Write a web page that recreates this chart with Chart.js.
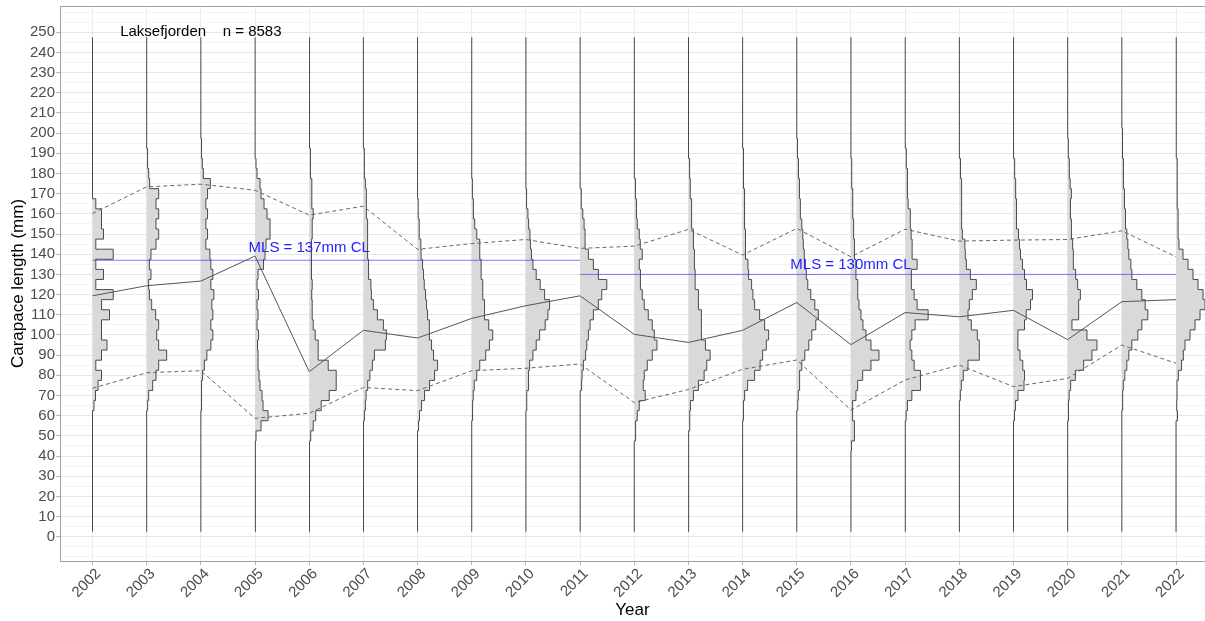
<!DOCTYPE html>
<html>
<head>
<meta charset="utf-8">
<script src="https://cdn.jsdelivr.net/npm/chart.js@4.4.1/dist/chart.umd.min.js"></script>
<style>
  html, body { margin: 0; padding: 0; background: #fff; }
  canvas { display: block; }
</style>
</head>
<body>
<canvas id="grafico" width="1205" height="621"></canvas>
<script>
// Anos e limites das classes de comprimento (mm)
const years = [2002, 2003, 2004, 2005, 2006, 2007, 2008, 2009, 2010, 2011, 2012,
               2013, 2014, 2015, 2016, 2017, 2018, 2019, 2020, 2021, 2022]
const binCentres = [45, 50, 55, 60, 65, 70, 75, 80, 85, 90, 95, 100, 105, 110, 115, 120,
                    125, 130, 135, 140, 145, 150, 155, 160, 165, 170, 175, 180, 185, 190, 195, 200]
const binWidth = 5
const lengthMin = 2.5
const lengthMax = 247.5
const lengthTicks = [0, 10, 20, 30, 40, 50, 60, 70, 80, 90, 100, 110, 120, 130, 140, 150,
                     160, 170, 180, 190, 200, 210, 220, 230, 240, 250]
const gridSteps = [-10, -5, 0, 5, 10, 15, 20, 25, 30, 35, 40, 45, 50, 55, 60, 65, 70, 75, 80, 85, 90, 95,
                   100, 105, 110, 115, 120, 125, 130, 135, 140, 145, 150, 155, 160, 165, 170, 175, 180,
                   185, 190, 195, 200, 205, 210, 215, 220, 225, 230, 235, 240, 245, 250, 255, 260]

// Frequencias relativas por classe (45 ... 200 mm)
const freq2002 = [0, 0, 0, 0, 1.5, 3, 5.5, 9, 3.3, 9, 14.5, 9, 9, 17, 9, 20.7, 3.3, 11, 3.3, 20.7, 3.3, 11, 9, 9, 3.3, 0, 0, 0, 0, 0, 0, 0]
const freq2003 = [0, 0, 0, 0, 1, 2, 6, 9.3, 12, 20, 12, 10, 12, 9, 5, 2.7, 2, 4.3, 2.7, 4.3, 9.3, 12, 9.3, 12, 9.3, 12, 3, 2, 1.3, 0.7, 0, 0]
const freq2004 = [0, 0, 0, 0, 0.5, 0.5, 1, 1.7, 3.5, 6, 10, 12, 10, 12, 11, 13, 10, 12, 10, 9, 5, 6.7, 5, 6.7, 5, 6.7, 9.5, 2.5, 1.5, 1, 0.5, 0]
const freq2005 = [0.5, 1, 6, 13, 8, 7, 5, 4, 3, 3, 2.5, 3.5, 2, 3, 2, 3.5, 2, 3, 8.5, 10, 11, 15, 15, 12, 9, 6, 5, 2, 1, 0.5, 0, 0]
const freq2006 = [0.5, 1.5, 4, 6.5, 12, 20, 27, 27, 19, 9, 9, 6, 4, 3, 3, 2.5, 3, 2, 2.5, 2, 2.5, 3, 3, 4, 2.7, 2.7, 2.5, 1.7, 1.3, 1, 0.7, 0.5]
const freq2007 = [0, 0, 0.5, 1, 2, 2.7, 4.3, 6.5, 9, 11, 22, 23, 20, 14, 10, 8, 7.5, 5.5, 5, 4.5, 4.5, 4, 4, 3.5, 3, 2.7, 2, 1.5, 1, 0.7, 0, 0]
const freq2008 = [0, 0, 1, 2, 4, 7, 12, 17, 20, 16, 14, 12, 11.7, 10, 9, 8, 6.7, 6, 5, 3.5, 3.3, 2, 1.5, 1, 0.5, 0, 0, 0, 0, 0, 0, 0]
const freq2009 = [0, 0, 0, 0.5, 1, 1.5, 2.5, 5, 8, 14, 17.7, 21, 17, 13, 12.7, 11, 11, 9.5, 9.3, 8, 8, 5, 3, 2, 1.5, 1, 0.5, 0, 0, 0, 0, 0]
const freq2010 = [0, 0, 0, 0, 0.5, 1, 2.5, 2.7, 3.7, 7, 10.3, 13.7, 19.3, 22, 23.7, 18.7, 14.3, 10.3, 7, 5.5, 4.5, 4, 2.7, 2, 1, 0.5, 0, 0, 0, 0, 0, 0]
const freq2011 = [0, 0, 0, 0, 0, 0.5, 1.5, 2, 3.3, 5.5, 6.7, 8.3, 10, 13.3, 18.3, 21.7, 26.7, 18.3, 13.3, 8.3, 5, 5, 4, 2.7, 1.5, 1, 0.5, 0, 0, 0, 0, 0]
const freq2012 = [0, 1, 1.5, 3, 5, 11, 9, 10, 13, 18, 22.7, 20, 18, 14, 10, 8, 6.5, 6, 5, 8, 6, 5, 3, 2.7, 2, 1.5, 1, 0.5, 0, 0, 0, 0]
const freq2013 = [0, 0.5, 1, 1.5, 2, 5, 10, 15.7, 18.3, 21.7, 17, 13, 13, 13, 10, 10, 6.7, 6.7, 6, 6, 5, 5, 3.3, 3.3, 3, 2, 1.7, 1.5, 1, 0.5, 0, 0]
const freq2014 = [0, 0, 0, 0.5, 1, 2, 5, 12, 17.5, 20, 23.7, 26, 22, 17, 12, 10.3, 9, 6, 5.3, 3, 3, 2.7, 2.3, 2, 2, 1.7, 1.3, 1, 1, 0.5, 0, 0]
const freq2015 = [0, 0, 0, 0, 1, 1.5, 2.5, 3, 5, 8, 12, 15, 19, 21.5, 18, 14, 11, 9.5, 8.5, 7.5, 6.5, 6, 5, 3.7, 3.5, 3, 2.5, 2, 1.5, 1, 0.5, 0]
const freq2016 = [0.5, 3.5, 3.5, 1.5, 1.7, 5, 6.7, 11.7, 20, 28, 20, 15, 12, 10, 8, 7, 6.7, 5, 5, 4, 3.3, 3, 2.5, 2, 2, 1.5, 1, 1, 0.5, 0, 0, 0]
const freq2017 = [0, 0, 0.5, 1, 2.3, 6.7, 15, 15.5, 9, 6.7, 5, 6.7, 10, 23, 12, 9, 6.7, 6, 12, 7, 7, 6, 5.5, 5, 3, 2.5, 2.5, 2, 1.5, 1, 0.5, 0]
const freq2018 = [0, 0, 0, 0, 0.5, 1, 2, 4, 8.7, 20, 20, 18, 12, 8.7, 10, 13, 17, 11, 7, 6, 5.5, 3, 2.5, 2.5, 2.3, 2.3, 2, 1.5, 1, 0.5, 0, 0]
const freq2019 = [0, 0, 0, 1, 2, 4.5, 10.5, 11, 9.3, 6.5, 4.3, 4.5, 11, 12.7, 17, 19, 13, 11, 9, 7, 6, 5, 3.5, 3, 2.7, 2.5, 2, 1.5, 1, 0.5, 0, 0]
const freq2020 = [0, 0, 0, 0.5, 1, 1.5, 3, 7.7, 16, 24.3, 29.3, 19.3, 4.3, 11, 11, 12.7, 10, 8, 6, 5.5, 5, 4.3, 3.5, 3, 2.7, 3.7, 2.5, 2, 1.5, 1, 0.5, 0]
const freq2021 = [0, 0, 0, 0, 0.5, 1, 1.5, 3, 5, 7, 10, 16, 20, 26, 23.3, 20, 15, 10, 9, 7, 6, 5, 4, 3.5, 3, 2.5, 2, 1.7, 1.3, 1, 0.7, 0.5]
const freq2022 = [0, 0, 0, 1.5, 0.7, 1, 1, 2.3, 5.5, 7.3, 9, 14, 19, 24, 29, 27, 22, 17, 12, 7, 3, 2.5, 2, 2, 1.5, 1.5, 1.2, 1, 1, 0.7, 0.5, 0]

const histograms = [freq2002, freq2003, freq2004, freq2005, freq2006, freq2007, freq2008,
                    freq2009, freq2010, freq2011, freq2012, freq2013, freq2014, freq2015,
                    freq2016, freq2017, freq2018, freq2019, freq2020, freq2021, freq2022]

// Media e percentis por ano (mm)
const meanCL = [119.4, 124.4, 126.7, 139.1, 81.8, 102.3, 98.5, 108.2, 114.5, 119.4, 100.3,
                96.3, 102.3, 116.1, 95.2, 111.1, 109, 112.2, 97.7, 116.5, 117.5]
const upperCL = [160.2, 173.4, 174.7, 171.7, 159.4, 163.8, 142.4, 145.3, 147.3, 142.9, 144,
                 152.3, 139.6, 152.8, 138.7, 152.4, 146.5, 147, 147.3, 151.6, 138.7]
const lowerCL = [73.6, 81.3, 82.3, 58.7, 61.2, 74, 72.4, 82.3, 83.5, 85.6, 66.5,
                 73, 83, 87.6, 62.8, 77.7, 85.1, 74.4, 78.5, 95, 86]

// Tamanho minimo legal (MLS)
const mlsValues = [137, 130]
const mlsFrom = [2002, 2011]
const mlsTo = [2011, 2022]
const mlsLabels = ['MLS = 137mm CL', 'MLS = 130mm CL']
const mlsLabelX = [2006, 2016]
const mlsLabelY = [143, 134.7]

const areaLabel = 'Laksefjorden    n = 8583'
const areaLabelX = 2004
const areaLabelY = 250

const ridgeWidth = 0.01846   // largura (anos) por unidade de frequencia
const fontFamily = '"Liberation Sans", Arial, Helvetica, sans-serif'
Chart.defaults.font.family = fontFamily

function ridgePoints(year, freq) {
  let pts = [{x: year, y: lengthMin}, {x: year, y: binCentres[0] - binWidth / 2}]
  binCentres.forEach((c, i) => {
    let dx = year + freq[i] * ridgeWidth
    pts.push({x: dx, y: c - binWidth / 2}, {x: dx, y: c + binWidth / 2})
  })
  pts.push({x: year, y: binCentres[binCentres.length - 1] + binWidth / 2})
  pts.push({x: year, y: lengthMax})
  return pts
}

let datasets = []

datasets.push({
  label: 'Mean', order: 0,
  data: years.map((yr, i) => ({x: yr, y: meanCL[i]})),
  borderColor: '#555555', borderWidth: 1
})
datasets.push({
  label: 'Upper', order: 0,
  data: years.map((yr, i) => ({x: yr, y: upperCL[i]})),
  borderColor: '#666666', borderWidth: 1, borderDash: [4, 3]
})
datasets.push({
  label: 'Lower', order: 0,
  data: years.map((yr, i) => ({x: yr, y: lowerCL[i]})),
  borderColor: '#666666', borderWidth: 1, borderDash: [4, 3]
})
mlsValues.forEach((v, i) => {
  datasets.push({
    label: mlsLabels[i], order: 0,
    data: [{x: mlsFrom[i], y: v}, {x: mlsTo[i], y: v}],
    borderColor: 'rgba(40,40,255,0.6)', borderWidth: 1
  })
})
years.forEach((yr, i) => {
  datasets.push({
    label: String(yr), order: 1,
    data: ridgePoints(yr, histograms[i]),
    borderColor: '#4a4a4a', borderWidth: 1,
    backgroundColor: '#d9d9d9', fill: 'shape'
  })
})

datasets.forEach(d => {
  d.showLine = true
  d.pointRadius = 0
  d.pointHoverRadius = 0
  if (d.fill === undefined) d.fill = false
})

const textPlugin = {
  id: 'textos',
  afterDatasetsDraw(chart) {
    const {ctx, scales: {x, y}} = chart
    ctx.save()
    ctx.textAlign = 'center'
    ctx.textBaseline = 'middle'
    ctx.font = '15px ' + fontFamily
    ctx.fillStyle = '#000000'
    ctx.fillText(areaLabel, x.getPixelForValue(areaLabelX), y.getPixelForValue(areaLabelY))
    ctx.fillStyle = '#2222ff'
    mlsLabels.forEach((t, i) => {
      ctx.fillText(t, x.getPixelForValue(mlsLabelX[i]), y.getPixelForValue(mlsLabelY[i]))
    })
    ctx.restore()
  }
}

const xMin = 2001.4
const xMax = 2022.535

new Chart(document.getElementById('grafico'), {
  type: 'scatter',
  data: { datasets: datasets },
  plugins: [textPlugin],
  options: {
    responsive: false,
    animation: false,
    devicePixelRatio: 1,
    layout: { padding: { top: 6, left: 0, right: 0, bottom: 0 } },
    plugins: { legend: { display: false }, tooltip: { enabled: false } },
    scales: {
      x: {
        type: 'linear', min: xMin, max: xMax,
        afterBuildTicks: s => { s.ticks = years.map(v => ({value: v})) },
        afterFit: s => { s.height = 60; s.paddingLeft = 0; s.paddingRight = 0 },
        ticks: {
          color: '#4d4d4d', font: { size: 15 }, minRotation: 45, maxRotation: 45,
          padding: 0, labelOffset: 6, autoSkip: false, callback: v => String(v)
        },
        grid: { color: '#ececec', tickColor: '#b3b3b3', tickLength: 4 },
        border: { color: '#a0a0a0', width: 1 },
        title: { display: true, text: 'Year', color: '#000', font: { size: 17 }, padding: { top: 0, bottom: 0 } }
      },
      xTop: {
        type: 'linear', position: 'top', min: xMin, max: xMax,
        afterFit: s => { s.height = 0; s.paddingLeft = 0; s.paddingRight = 0 },
        ticks: { display: false },
        grid: { display: false, drawTicks: false },
        border: { color: '#a0a0a0', width: 1 }
      },
      y: {
        type: 'linear', min: -12, max: 263,
        afterBuildTicks: s => { s.ticks = gridSteps.map(v => ({value: v})) },
        afterFit: s => { s.width = 60; s.paddingTop = 0; s.paddingBottom = 0 },
        ticks: {
          color: '#4d4d4d', font: { size: 15 }, padding: 1, autoSkip: false,
          callback: v => (lengthTicks.includes(v) ? String(v) : '')
        },
        grid: {
          color: c => (lengthTicks.includes(c.tick.value) ? '#e6e6e6' : '#f3f3f3'),
          tickColor: c => (lengthTicks.includes(c.tick.value) ? '#b3b3b3' : 'rgba(0,0,0,0)'),
          tickLength: 4
        },
        border: { color: '#a0a0a0', width: 1 },
        title: { display: true, text: 'Carapace length (mm)', color: '#000', font: { size: 17 }, padding: { top: 8, bottom: 0 } }
      }
    }
  }
})
</script>
</body>
</html>
